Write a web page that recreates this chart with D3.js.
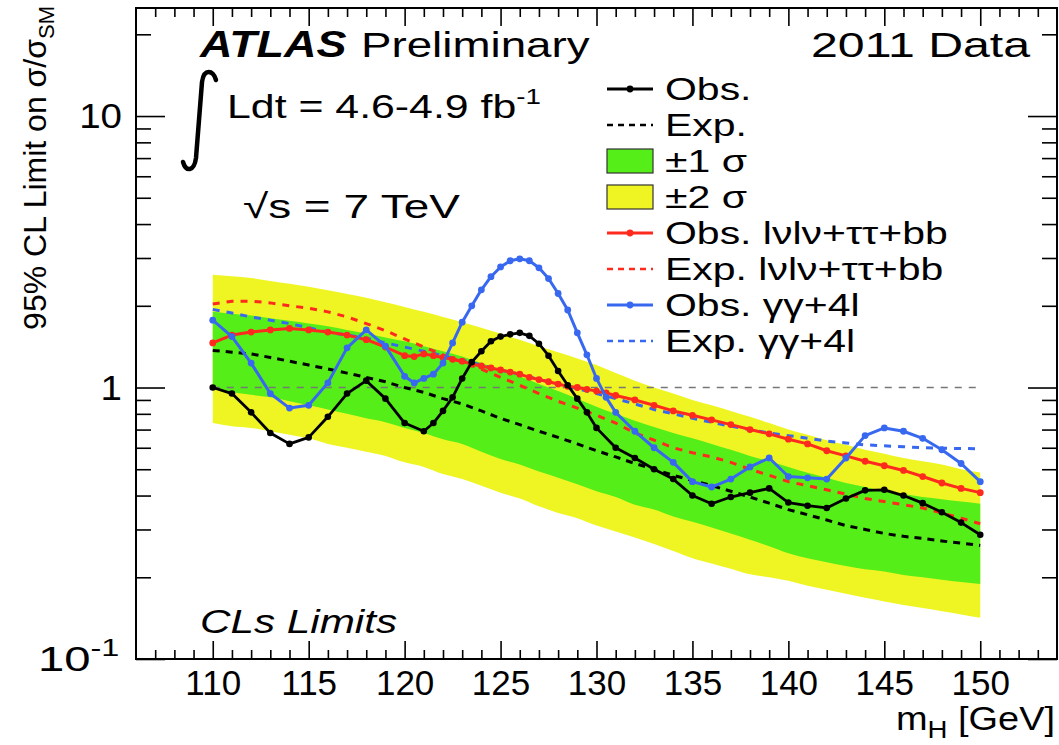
<!DOCTYPE html>
<html>
<head>
<meta charset="utf-8">
<script src="https://cdn.jsdelivr.net/npm/d3@7"></script>
<style>
  body { margin: 0; background: #fff; }
  svg text { font-family: "Liberation Sans", Arial, Helvetica, sans-serif; fill: #000; }
</style>
</head>
<body>
<svg id="chart" width="1059" height="745"></svg>
<script>
// ---- axis ranges and ticks ----
const xDomain = [106, 154];
const yDomain = [0.1, 25];
const xMajorTicks = [110, 115, 120, 125, 130, 135, 140, 145, 150];
const yMajorTicks = [0.1, 1, 10];
const yTickLabels = [["10", "-1"], ["1", ""], ["10", ""]];

// ---- expected band (combined) on a 1 GeV grid ----
const bandMass = [110,111,112,113,114,115,116,117,118,119,120,121,122,123,124,125,126,127,128,129,130,
                  131,132,133,134,135,136,137,138,139,140,141,142,143,144,145,146,147,148,149,150];
const expMedian = [1.37,1.35,1.33,1.29,1.25,1.21,1.17,1.13,1.09,1.05,1.00,0.96,0.91,0.87,0.82,0.77,0.73,0.69,0.655,0.62,0.585,
                   0.555,0.525,0.50,0.475,0.455,0.435,0.415,0.395,0.375,0.355,0.34,0.325,0.31,0.30,0.29,0.283,0.278,0.272,0.267,0.262];
const band2Lo = [0.74,0.72,0.71,0.69,0.67,0.65,0.62,0.60,0.58,0.56,0.53,0.51,0.48,0.46,0.435,0.41,0.39,0.365,0.345,0.33,0.31,
                 0.295,0.28,0.265,0.25,0.235,0.225,0.215,0.205,0.20,0.194,0.186,0.18,0.174,0.168,0.163,0.158,0.154,0.15,0.146,0.142];
const band1Lo = [0.99,0.96,0.94,0.92,0.89,0.86,0.83,0.80,0.77,0.745,0.71,0.68,0.645,0.62,0.58,0.545,0.52,0.49,0.465,0.44,0.415,
                 0.395,0.37,0.355,0.335,0.32,0.305,0.29,0.275,0.26,0.245,0.235,0.227,0.22,0.214,0.21,0.204,0.20,0.196,0.192,0.189];
const band1Hi = [1.90,1.87,1.84,1.80,1.76,1.72,1.68,1.63,1.58,1.53,1.48,1.42,1.36,1.30,1.23,1.16,1.10,1.03,0.97,0.91,0.85,
                 0.80,0.755,0.715,0.68,0.65,0.62,0.59,0.56,0.535,0.51,0.485,0.465,0.445,0.43,0.415,0.405,0.395,0.388,0.38,0.373];
const band2Hi = [2.60,2.57,2.53,2.47,2.41,2.35,2.28,2.21,2.14,2.06,1.98,1.90,1.82,1.74,1.66,1.58,1.50,1.42,1.35,1.28,1.21,
                 1.13,1.06,1.00,0.95,0.90,0.86,0.82,0.78,0.74,0.70,0.67,0.64,0.615,0.59,0.57,0.55,0.535,0.52,0.50,0.486];

// ---- combined observed limit ----
const obsMass  = [110,111,112,113,114,115,116,117,118,119,120,121,121.5,122,122.5,123,123.5,124,124.5,125,125.5,126,126.5,127,127.5,
                  128,128.5,129,129.5,130,131,132,133,134,135,136,137,138,139,140,141,142,143,144,145,146,147,148,149,150];
const obsLimit = [1.00,0.95,0.81,0.68,0.62,0.655,0.78,0.95,1.06,0.91,0.74,0.69,0.74,0.82,0.92,1.08,1.24,1.36,1.48,1.54,1.57,1.59,1.55,1.45,1.31,
                  1.15,1.02,0.91,0.81,0.71,0.60,0.55,0.50,0.46,0.40,0.373,0.395,0.41,0.425,0.377,0.367,0.36,0.39,0.418,0.42,0.40,0.375,0.347,0.318,0.287];

// ---- lvlv + tautau + bb sub-combination ----
const llMass  = [110,111,112,113,114,115,116,117,118,119,120,120.5,121,121.5,122,122.5,123,123.5,124,124.5,125,125.5,126,126.5,127,127.5,
                 128,128.5,129,129.5,130,130.5,131,132,133,134,135,136,137,138,139,140,141,142,143,144,145,146,147,148,149,150];
const llObs   = [1.46,1.56,1.60,1.63,1.65,1.63,1.60,1.56,1.50,1.41,1.31,1.30,1.33,1.31,1.29,1.27,1.25,1.22,1.20,1.18,1.16,1.14,1.12,1.09,1.07,1.05,
                 1.03,1.01,1.00,0.985,0.97,0.955,0.935,0.90,0.86,0.82,0.79,0.76,0.73,0.70,0.675,0.645,0.62,0.585,0.56,0.535,0.515,0.495,0.47,0.445,0.425,0.41];
const llExp   = [2.03,2.08,2.08,2.05,2.00,1.96,1.90,1.82,1.72,1.62,1.51,1.41,1.32,1.24,1.17,1.09,1.02,0.95,0.89,0.84,0.79,
                 0.74,0.68,0.64,0.60,0.575,0.555,0.53,0.50,0.475,0.45,0.435,0.42,0.405,0.39,0.38,0.37,0.36,0.345,0.33,0.315];

// ---- gamma gamma + 4l sub-combination ----
const gaMass  = [110,111,112,113,114,115,116,117,118,119,120,120.5,121,121.5,122,122.5,123,123.5,124,124.5,125,125.5,126,126.5,127,127.5,
                 128,128.5,129,129.5,130,130.5,131,132,133,134,135,136,137,138,139,140,141,142,143,144,145,146,147,148,149,150];
const gaObs   = [1.77,1.54,1.23,0.95,0.84,0.86,1.04,1.40,1.63,1.42,1.10,1.04,1.08,1.12,1.23,1.46,1.74,2.00,2.29,2.56,2.78,2.93,2.98,2.93,2.76,2.52,
                 2.22,1.93,1.59,1.32,1.08,0.92,0.81,0.69,0.60,0.53,0.45,0.43,0.46,0.51,0.55,0.47,0.465,0.46,0.55,0.665,0.71,0.69,0.65,0.59,0.525,0.45];
const gaExp   = [1.94,1.88,1.82,1.77,1.72,1.66,1.60,1.56,1.52,1.46,1.41,1.36,1.31,1.26,1.21,1.16,1.12,1.07,1.03,0.99,0.95,
                 0.91,0.87,0.83,0.80,0.77,0.745,0.72,0.70,0.68,0.665,0.65,0.635,0.625,0.615,0.61,0.605,0.60,0.598,0.596,0.595];

// ---- legend ----
const legendLabels = ["Obs.", "Exp.", "\u00B11 \u03C3", "\u00B12 \u03C3",
                      "Obs. l\u03BDl\u03BD+\u03C4\u03C4+bb", "Exp. l\u03BDl\u03BD+\u03C4\u03C4+bb",
                      "Obs. \u03B3\u03B3+4l", "Exp. \u03B3\u03B3+4l"];

// ---- colours ----
const cYellow = "#eff523", cGreen = "#55ee18", cRed = "#ff2a1e", cBlue = "#3868f0", cBlack = "#000";

// ---- geometry ----
const L = 136, R = 1057, T = 8, B = 659;
const svg = d3.select("#chart");
const x = d3.scaleLinear().domain(xDomain).range([L, R]);
const y = d3.scaleLog().domain(yDomain).range([B, T]);

const xMinorTicks = d3.range(xDomain[0] + 1, xDomain[1]).filter(v => v % 5 !== 0);
const yMinorTicks = [];
for (const dec of [0.1, 1, 10]) for (let k = 2; k <= 9; k++) { const v = dec * k; if (v < yDomain[1]) yMinorTicks.push(v); }

// text helper: glyphs drawn wide, as in the ROOT canvas
function wideText(parent, px, py, k, size) {
  return parent.append("text").attr("transform", `translate(${px},${py}) scale(${k},1)`).attr("font-size", size);
}

// bands
const bandRows = bandMass.map((m, i) => ({ m, lo2: band2Lo[i], lo1: band1Lo[i], hi1: band1Hi[i], hi2: band2Hi[i] }));
const plot = svg.append("g");
const bandCurve = d3.curveMonotoneX;
plot.append("path").datum(bandRows).attr("fill", cYellow)
  .attr("d", d3.area().curve(bandCurve).x(d => x(d.m)).y0(d => y(d.lo2)).y1(d => y(d.hi2)));
plot.append("path").datum(bandRows).attr("fill", cGreen)
  .attr("d", d3.area().curve(bandCurve).x(d => x(d.m)).y0(d => y(d.lo1)).y1(d => y(d.hi1)));

// reference line at 1
plot.append("line").attr("x1", x(110)).attr("x2", x(150)).attr("y1", y(1)).attr("y2", y(1))
  .attr("stroke", "#777").attr("stroke-width", 1.6).attr("stroke-dasharray", "7,7");

const line = d3.line().x(d => x(d[0])).y(d => y(d[1]));
const pairs = (ms, vs) => ms.map((m, i) => [m, vs[i]]);

// expected (dashed)
function dashed(ms, vs, color, dash) {
  plot.append("path").datum(pairs(ms, vs)).attr("fill", "none").attr("stroke", color)
    .attr("stroke-width", 3).attr("stroke-dasharray", dash).attr("d", line);
}
dashed(bandMass, expMedian, cBlack, "7,6");
dashed(bandMass, llExp, cRed, "7,7");
dashed(bandMass, gaExp, cBlue, "7,7");

// observed (solid with markers)
function observed(ms, vs, color, w, r) {
  const data = pairs(ms, vs);
  plot.append("path").datum(data).attr("fill", "none").attr("stroke", color)
    .attr("stroke-width", w).attr("stroke-linejoin", "round").attr("d", line);
  plot.append("g").selectAll("circle").data(data).join("circle")
    .attr("cx", d => x(d[0])).attr("cy", d => y(d[1])).attr("r", r).attr("fill", color);
}
observed(llMass, llObs, cRed, 3, 3.4);
observed(gaMass, gaObs, cBlue, 3, 3.4);
observed(obsMass, obsLimit, cBlack, 2.8, 3.3);

// ---- axes ----
function styleAxis(g) {
  g.select(".domain").remove();
  g.selectAll(".tick line").attr("stroke", "#000").attr("stroke-width", 1.6);
}
svg.append("g").attr("transform", `translate(0,${B})`)
  .call(d3.axisBottom(x).tickValues(xMajorTicks).tickSizeInner(-18).tickSizeOuter(0).tickPadding(11).tickFormat(d3.format("d")))
  .call(styleAxis)
  .call(g => g.selectAll("text").attr("font-size", 35).attr("font-family", "Liberation Sans, Arial, sans-serif").attr("fill", "#000"));
svg.append("g").attr("transform", `translate(0,${B})`)
  .call(d3.axisBottom(x).tickValues(xMinorTicks).tickSizeInner(-9).tickSizeOuter(0).tickFormat(""))
  .call(styleAxis);
svg.append("g").attr("transform", `translate(0,${T})`)
  .call(d3.axisTop(x).tickValues(xMajorTicks).tickSizeInner(-18).tickSizeOuter(0).tickFormat(""))
  .call(styleAxis);
svg.append("g").attr("transform", `translate(0,${T})`)
  .call(d3.axisTop(x).tickValues(xMinorTicks).tickSizeInner(-9).tickSizeOuter(0).tickFormat(""))
  .call(styleAxis);
svg.append("g").attr("transform", `translate(${L},0)`)
  .call(d3.axisLeft(y).tickValues(yMajorTicks).tickSizeInner(-29).tickSizeOuter(0).tickFormat(""))
  .call(styleAxis);
svg.append("g").attr("transform", `translate(${L},0)`)
  .call(d3.axisLeft(y).tickValues(yMinorTicks).tickSizeInner(-15).tickSizeOuter(0).tickFormat(""))
  .call(styleAxis);
svg.append("g").attr("transform", `translate(${R},0)`)
  .call(d3.axisRight(y).tickValues(yMajorTicks).tickSizeInner(-29).tickSizeOuter(0).tickFormat(""))
  .call(styleAxis);
svg.append("g").attr("transform", `translate(${R},0)`)
  .call(d3.axisRight(y).tickValues(yMinorTicks).tickSizeInner(-15).tickSizeOuter(0).tickFormat(""))
  .call(styleAxis);

// y tick labels (exponent label drawn wider)
yMajorTicks.forEach((v, i) => {
  const [base, exp] = yTickLabels[i];
  if (exp) {
    const t = wideText(svg, 38, y(v) + 12, 1.35, 35);
    t.append("tspan").text(base);
    t.append("tspan").attr("font-size", 24).attr("dy", -15).text(exp);
  } else {
    const t = wideText(svg, 122, y(v) + 12, 1.1, 35).attr("text-anchor", "end");
    t.append("tspan").text(base);
  }
});

// frame
svg.append("rect").attr("x", L).attr("y", T).attr("width", R - L).attr("height", B - T)
  .attr("fill", "none").attr("stroke", "#000").attr("stroke-width", 2);

// axis titles
const xt = wideText(svg, 1055, 730, 1.15, 33).attr("text-anchor", "end");
xt.append("tspan").text("m");
xt.append("tspan").attr("font-size", 24).attr("dy", 8).text("H");
xt.append("tspan").attr("dy", -8).text(" [GeV]");

const yt = svg.append("text").attr("text-anchor", "end").attr("transform", "translate(46,6) rotate(-90)").attr("font-size", 32);
yt.append("tspan").text("95% CL Limit on \u03C3/\u03C3");
yt.append("tspan").attr("font-size", 22).attr("dy", 8).text("SM");

// ---- labels inside the frame ----
wideText(svg, 200, 57, 1.25, 36).attr("font-weight", "bold").attr("font-style", "italic").text("ATLAS");
wideText(svg, 361, 57, 1.27, 36).text("Preliminary");
wideText(svg, 1030, 57, 1.34, 36).attr("text-anchor", "end").text("2011 Data");

// integral sign
svg.append("path")
  .attr("d", "M216,80 C213,70 204,68 202,82 L196,158 C194,172 186,172 183,162")
  .attr("fill", "none").attr("stroke", "#000").attr("stroke-width", 4.5).attr("stroke-linecap", "round");
const lum = wideText(svg, 227, 118, 1.26, 34);
lum.append("tspan").text("Ldt = 4.6-4.9 fb");
lum.append("tspan").attr("font-size", 22).attr("dy", -14).text("-1");

const rs = wideText(svg, 243, 218, 1.35, 34);
rs.append("tspan").text("\u221As = 7 TeV");

wideText(svg, 200, 633, 1.28, 33).attr("font-style", "italic").text("CLs Limits");

// ---- legend ----
const legX0 = 607, legX1 = 653, legTextX = 665, legY0 = 89, legDY = 36;
const legend = svg.append("g");
const legendStyles = [
  { type: "obs", color: cBlack }, { type: "exp", color: cBlack },
  { type: "box", color: cGreen }, { type: "box", color: cYellow },
  { type: "obs", color: cRed }, { type: "exp", color: cRed },
  { type: "obs", color: cBlue }, { type: "exp", color: cBlue }
];
legendLabels.forEach((lab, i) => {
  const cy = legY0 + i * legDY, st = legendStyles[i];
  if (st.type === "box") {
    legend.append("rect").attr("x", legX0).attr("y", cy - 12).attr("width", legX1 - legX0).attr("height", 24)
      .attr("fill", st.color).attr("stroke", "#333").attr("stroke-width", 1.2);
  } else {
    legend.append("line").attr("x1", legX0).attr("x2", legX1).attr("y1", cy).attr("y2", cy)
      .attr("stroke", st.color).attr("stroke-width", st.type === "obs" ? 3 : 2.6)
      .attr("stroke-dasharray", st.type === "exp" ? "6,5" : null);
    if (st.type === "obs") legend.append("circle").attr("cx", (legX0 + legX1) / 2).attr("cy", cy).attr("r", 3.4).attr("fill", st.color);
  }
  wideText(legend, legTextX, cy + 11, 1.28, 32).text(lab);
});
</script>
</body>
</html>
